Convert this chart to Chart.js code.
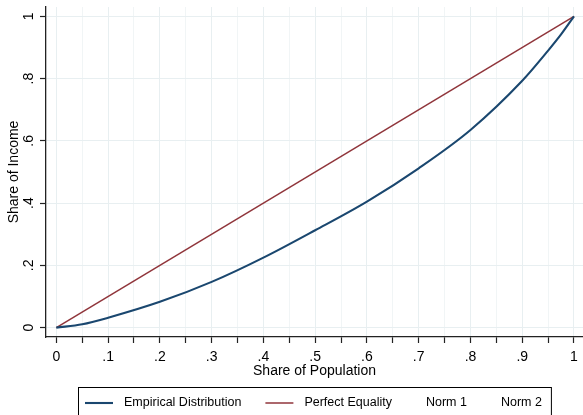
<!DOCTYPE html>
<html>
<head>
<meta charset="utf-8">
<script src="https://cdn.jsdelivr.net/npm/chart.js@4"></script>
<style>
  html, body { margin: 0; padding: 0; background: #fff; }
  #wrap { width: 583px; height: 415px; }
</style>
</head>
<body>
<div id="wrap"><canvas id="lorenz"></canvas></div>
<script>
// lorenz curve points
const popShare    = [0, .05, .1, .2, .3, .4, .5, .6, .7, .8, .9, .95, .975, 1];
const incomeShare = [0, .011, .032, .083, .147, .225, .313, .405, .512, .635, .793, .89, .942, 1];
// perfect equality line
const equalityX = [0, 1];
const equalityY = [0, 1];
// axis ticks
const xTicks = [0, .05, .1, .15, .2, .25, .3, .35, .4, .45, .5, .55, .6, .65, .7, .75, .8, .85, .9, .95, 1];
const xTickLabels = ['0', '', '.1', '', '.2', '', '.3', '', '.4', '', '.5', '', '.6', '', '.7', '', '.8', '', '.9', '', '1'];
const yTicks = [0, .2, .4, .6, .8, 1];
const yTickLabels = ['0', '.2', '.4', '.6', '.8', '1'];

const toPoints = (xs, ys) => xs.map((x, i) => ({x: x, y: ys[i]}));

Chart.defaults.font.family = '"Liberation Sans", Arial, sans-serif';
Chart.defaults.color = '#000';

//stata style key with a box round it
const stataKey = {
  id: 'stataKey',
  afterDraw(chart) {
    const {ctx, chartArea} = chart;
    ctx.save();
    ctx.font = '12.5px "Liberation Sans", Arial, sans-serif';
    const items = chart.data.datasets.map(ds => ({
      text: ds.label,
      color: ds.borderColor,
      lw: ds.borderWidth,
      hasLine: ds.data.length > 0
    }));
    const sample = 28, sampleGap = 11, blankGap = 10, itemGap = 24, padL = 7, padR = 9;
    let total = padL + padR;
    items.forEach((it, i) => {
      it.w = (it.hasLine ? sample + sampleGap : blankGap) + ctx.measureText(it.text).width;
      total += it.w + (i ? itemGap : 0);
    });
    const boxLeft = Math.round((chartArea.left + chartArea.right) / 2 - total / 2);
    const boxTop = chartArea.bottom + 50;
    const midY = boxTop + 16;
    ctx.strokeStyle = '#000';
    ctx.lineWidth = 1;
    ctx.strokeRect(boxLeft + 0.5, boxTop + 0.5, total, 34);
    let x = boxLeft + padL;
    ctx.textBaseline = 'middle';
    ctx.fillStyle = '#000';
    items.forEach(it => {
      if (it.hasLine) {
        ctx.strokeStyle = it.color;
        ctx.lineWidth = it.lw;
        ctx.beginPath();
        ctx.moveTo(x, midY);
        ctx.lineTo(x + sample, midY);
        ctx.stroke();
        ctx.fillText(it.text, x + sample + sampleGap, midY);
      } else {
        ctx.fillText(it.text, x + blankGap, midY);
      }
      x += it.w + itemGap;
    });
    ctx.restore();
  }
};

new Chart(document.getElementById('lorenz'), {
  type: 'scatter',
  data: {
    datasets: [{
      label: 'Empirical Distribution',
      data: toPoints(popShare, incomeShare),
      showLine: true,
      borderColor: '#1a476f',
      borderWidth: 2.1,
      pointRadius: 0,
      cubicInterpolationMode: 'monotone'
    },
    {
      label: 'Perfect Equality',
      data: toPoints(equalityX, equalityY),
      showLine: true,
      borderColor: '#90353b',
      borderWidth: 1.5,
      pointRadius: 0
    },
    {
      label: 'Norm 1',
      data: [],
      borderColor: 'transparent',
      borderWidth: 0
    },
    {
      label: 'Norm 2',
      data: [],
      borderColor: 'transparent',
      borderWidth: 0
    }]
  },
  options: {
    responsive: true,
    maintainAspectRatio: false,
    animation: false,
    layout: { padding: { top: 7, left: 0, right: 0, bottom: 30 } },
    scales: {
      x: {
        type: 'linear',
        min: -0.02,
        max: 1.0174,
        afterBuildTicks: s => { s.ticks = xTicks.map(v => ({value: v})); },
        afterFit: s => { s.height = 48; s.paddingLeft = 0; s.paddingRight = 0; },
        ticks: {
          autoSkip: false,
          maxRotation: 0,
          padding: 6,
          font: { size: 14 },
          callback: (v, i) => xTickLabels[i]
        },
        grid: {
          color: c => (c.index % 2 ? '#f1f5f6' : '#e8eff1'),
          borderDash: c => (c.index % 2 ? [1, 2] : []),
          lineWidth: 1,
          tickColor: '#222',
          tickLength: 6,
          tickWidth: 1.2
        },
        border: { color: '#222', width: 1.3 },
        title: {
          display: true,
          text: 'Share of Population',
          font: { size: 14 },
          padding: { top: 0, bottom: 5.5 }
        }
      },
      y: {
        type: 'linear',
        min: -0.03,
        max: 1.03,
        afterBuildTicks: s => { s.ticks = yTicks.map(v => ({value: v})); },
        afterFit: s => { s.width = 46; s.paddingTop = 0; s.paddingBottom = 0; },
        ticks: {
          minRotation: 90,
          maxRotation: 90,
          crossAlign: 'center',
          padding: 5,
          font: { size: 14 },
          callback: (v, i) => yTickLabels[i]
        },
        grid: {
          color: '#e8eff1',
          lineWidth: 1,
          tickColor: '#222',
          tickLength: 6,
          tickWidth: 1.2
        },
        border: { color: '#222', width: 1.3 },
        title: {
          display: true,
          text: 'Share of Income',
          font: { size: 14 },
          padding: { top: 5.6, bottom: 0 }
        }
      }
    },
    plugins: {
      legend: { display: false },
      tooltip: { enabled: false }
    }
  },
  plugins: [stataKey]
});
</script>
</body>
</html>
